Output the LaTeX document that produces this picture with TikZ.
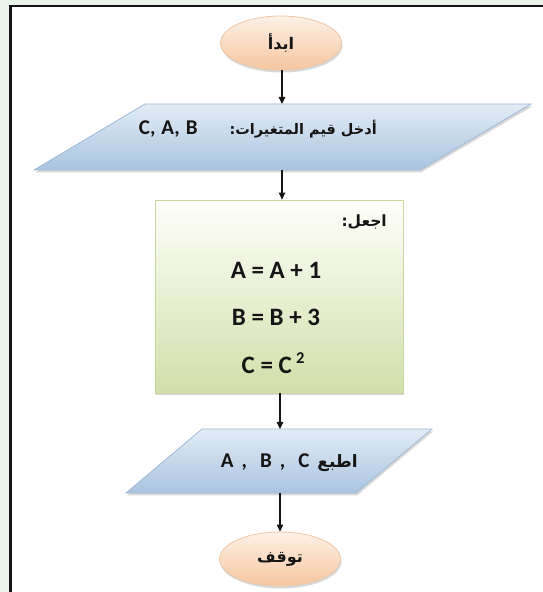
\documentclass[tikz,border=0pt]{standalone}
\usepackage{fontspec}
\setmainfont{Carlito}
\newfontfamily\arabicfont[Script=Arabic]{DejaVu Sans}
\TeXXeTstate=1
\usetikzlibrary{shapes.geometric,shadows,arrows.meta}

\definecolor{pagebg}{HTML}{EAF4EA}
\definecolor{termtop}{HTML}{FDF1E6}
\definecolor{termbot}{HTML}{F6C6A0}
\definecolor{termedge}{HTML}{EFC7A6}
\definecolor{iotop}{HTML}{E2ECF6}
\definecolor{iobot}{HTML}{A9C4E0}
\definecolor{ioedge}{HTML}{9FBAD8}
\definecolor{proctop}{HTML}{FEFFFB}
\definecolor{procbot}{HTML}{D2DFAA}
\definecolor{procedge}{HTML}{C8D6A2}
\definecolor{ink}{HTML}{151515}

\tikzset{
  softshadow/.style={drop shadow={shadow xshift=1pt,shadow yshift=-2.5pt,opacity=0.25,fill=black!60}},
  terminal/.style={ellipse,minimum width=121pt,minimum height=54pt,inner sep=0pt,
    top color=termtop,bottom color=termbot,draw=termedge,line width=0.8pt,softshadow},
  iobox/.style={top color=iotop,bottom color=iobot,draw=ioedge,line width=0.8pt,softshadow},
  procbox/.style={rectangle,minimum width=248pt,minimum height=193pt,inner sep=0pt,
    top color=proctop,bottom color=procbot,draw=procedge,line width=0.8pt,softshadow},
  label/.style={text=ink,inner sep=0pt},
  flow/.style={draw=ink,line width=1.2pt,-{Triangle[length=7pt,width=6.5pt]}},
}
% Arabic and Latin label fonts, bold, given a size in pt
\newcommand{\arb}[1]{\arabicfont\bfseries\fontsize{#1}{#1}\selectfont}
\newcommand{\lat}[1]{\rmfamily\bfseries\fontsize{#1}{#1}\selectfont}

\begin{document}
\begin{tikzpicture}[x=1pt,y=1pt]
\useasboundingbox (0,0) rectangle (543,592);
% page and frame
\fill[pagebg] (0,0) rectangle (543,592);
\fill[white] (10.5,0) rectangle (543,586);
\draw[line width=2.5pt,ink] (10.5,0) -- (10.5,586) -- (543,586);

% start
\node[terminal] (start) at (281,549) {};
\node[label] (startlbl) at (start) {\arb{16}\beginR ابدأ\endR};

% input parallelogram
\coordinate (inT) at (282,488);
\coordinate (inB) at (282,422);
\path[iobox] (34,422) -- (145,488) -- (531,488) -- (420,422) -- cycle;
\node[label,anchor=base east] (input) at (377,457) {\arb{14.5}\beginR أدخل قيم المتغيرات:\hspace{32pt}\beginL{\lat{21}C,\hspace{6pt}A,\hspace{6pt}B}\endL\endR};

% process box
\node[procbox] (calc) at (279,295.5) {};
\node[label,anchor=east] (setlbl) at (387,370) {\arb{15.5}\beginR اجعل:\endR};
\node[label] (l1) at (276,322) {\lat{25}A = A + 1};
\node[label] (l2) at (276,275) {\lat{25}B = B + 3};
\node[label] (l3) at (273,229) {\lat{25}C = C\,\raisebox{0.42em}{\fontsize{16.5}{16.5}\selectfont 2}};

% output parallelogram
\coordinate (outT) at (280,163);
\coordinate (outB) at (280,99);
\path[iobox] (126,99) -- (202,163) -- (432,163) -- (356,99) -- cycle;
\node[label,anchor=base east] (output) at (358,124) {\arb{17}\beginR اطبع\hspace{8pt}\beginL{\lat{21}A\hspace{8pt},\hspace{13pt}B\hspace{8pt},\hspace{13pt}C}\endL\endR};

% stop
\node[terminal] (stop) at (280,33) {};
\node[label] (stoplbl) at (stop) {\arb{16}\beginR توقف\endR};

% connectors
\draw[flow] (start.south -| inT) -- (inT);
\draw[flow] (inB) -- (inB |- calc.north);
\draw[flow] (calc.south -| outT) -- (outT);
\draw[flow] (outB) -- (outB |- stop.north);
\end{tikzpicture}
\end{document}
